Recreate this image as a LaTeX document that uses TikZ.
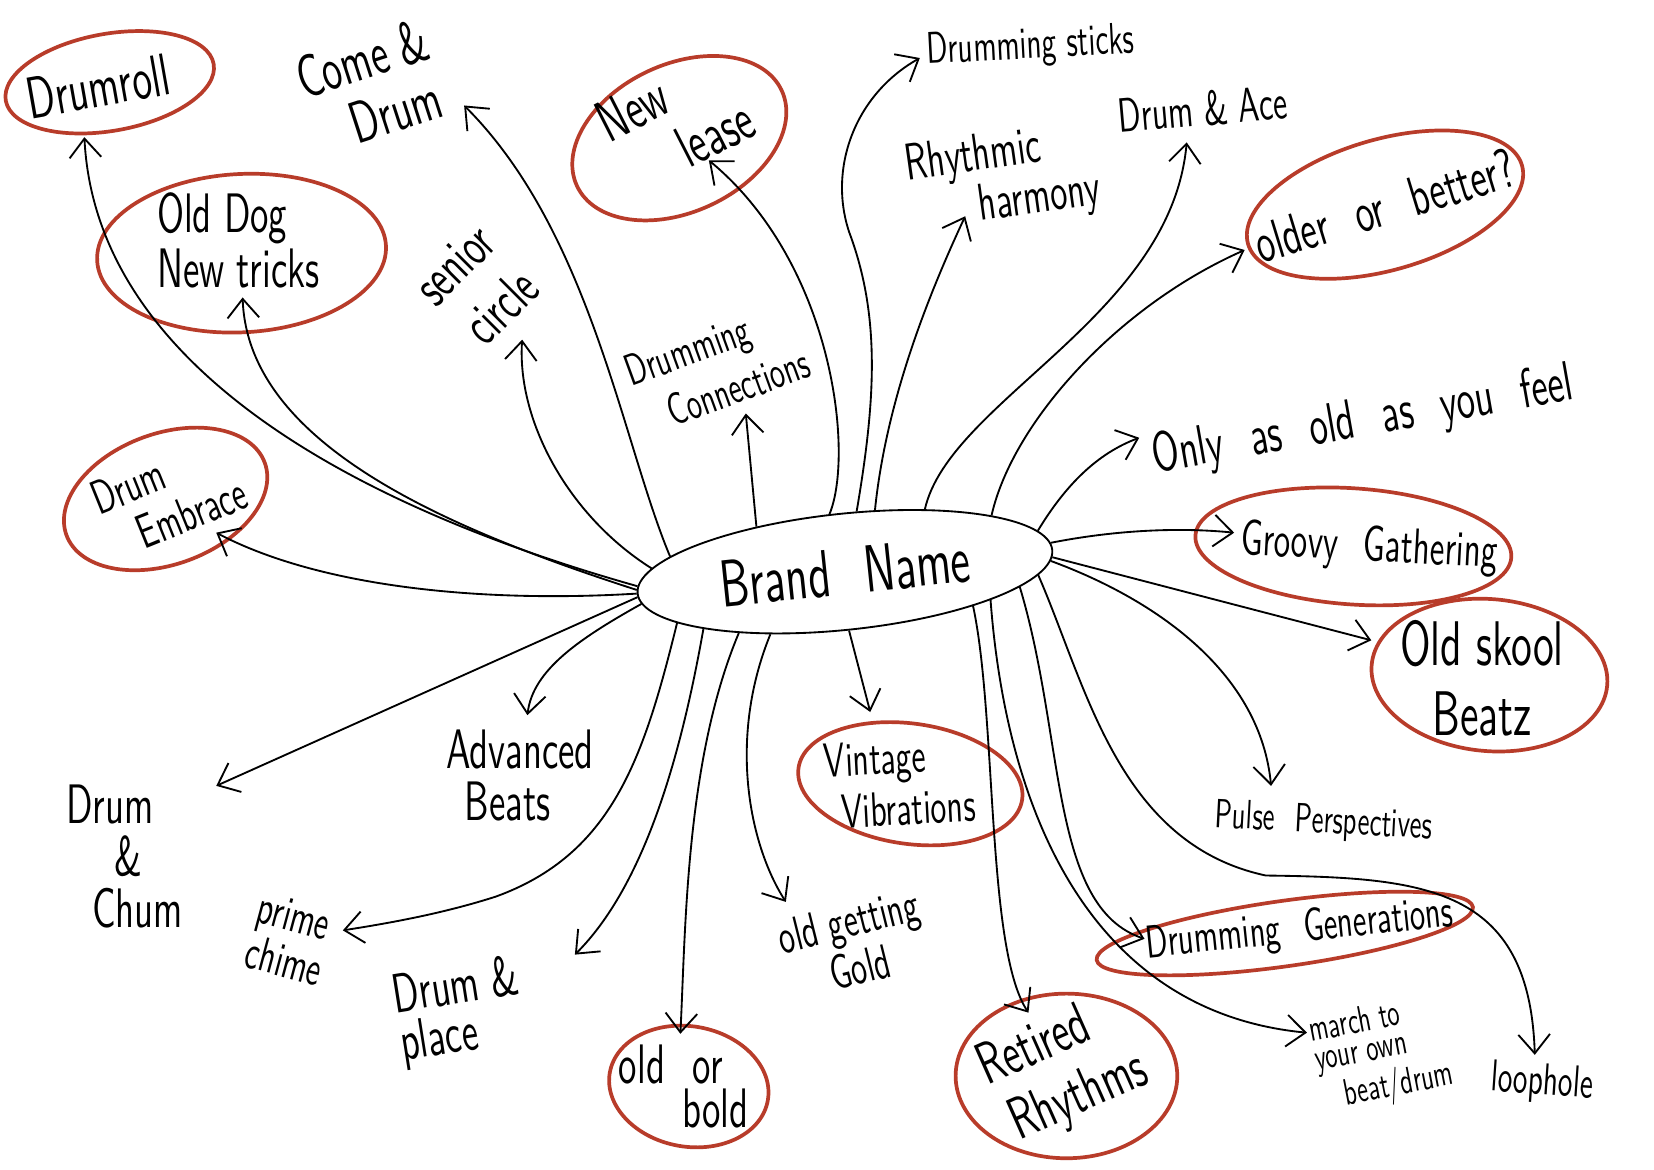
\documentclass[tikz,border=0pt]{standalone}
\usepackage{fontspec}
\setmainfont{lmsans10-regular.otf}[FakeStretch=0.66]
\usetikzlibrary{shapes.geometric,arrows.meta}
\definecolor{ringred}{RGB}{184,60,42}

\begin{document}
\begin{tikzpicture}[x=0.01cm, y=-0.01cm,
	word/.style 2 args={font=\fontsize{#1}{#2}\selectfont, align=left, inner sep=1pt},
	ring/.style 2 args={ellipse, draw=ringred, line width=1pt, inner sep=0pt, minimum width=#1, minimum height=#2},
	spoke/.style={line width=0.5pt, -{Straight Barb[length=1.8mm, width=3mm]}}]
	\fill[white] (0,0) rectangle (1568,1109);
	\useasboundingbox (0,0) rectangle (1568,1109);

	% hub
	\node[ellipse, draw, line width=0.5pt, minimum width=3.95cm, minimum height=1.1cm, rotate=6,
		font=\fontsize{18}{18}\selectfont] (brand) at (801,542) {Brand\enspace Name\hspace{10pt}};

	% red rings
	\node[ring={2cm}{0.92cm}, rotate=10] (drumroll-ring) at (104,78) {};
	\node[ring={2.74cm}{1.5cm}, rotate=3] (olddog-ring) at (229,240) {};
	\node[ring={2.14cm}{1.4cm}, rotate=25] (newlease-ring) at (644,131) {};
	\node[ring={2.7cm}{1.24cm}, rotate=16] (older-ring) at (1313,194) {};
	\node[ring={2cm}{1.24cm}, rotate=20] (embrace-ring) at (157,473) {};
	\node[ring={3cm}{1.1cm}, rotate=-4] (groovy-ring) at (1283,518) {};
	\node[ring={2.24cm}{1.44cm}, rotate=-5] (skool-ring) at (1412,640) {};
	\node[ring={2.14cm}{1.14cm}, rotate=-8] (vintage-ring) at (863,743) {};
	\node[ring={3.6cm}{0.62cm}, rotate=8] (generations-ring) at (1218,885) {};
	\node[ring={1.52cm}{1.14cm}, rotate=-10] (oldbold-ring) at (653,1030) {};
	\node[ring={2.1cm}{1.56cm}] (retired-ring) at (1011,1020) {};

	% labels
	\node[word={16}{16}, rotate=10] (drumroll) at (93,82) {Drumroll};
	\node[word={15}{15}] (olddog) at (226,228) {Old Dog\\New tricks};
	\node[word={16}{16}, rotate=27] (newlease) at (640,114) {New\\\hspace{16pt}lease};
	\node[word={15}{15}, rotate=17] (older) at (1313,195) {older\enspace or\enspace better?};
	\node[word={13}{13}, rotate=22] (embrace) at (160,470) {Drum\\\hspace{8pt}Embrace};
	\node[word={13.5}{14}, rotate=-3] (groovy) at (1298,520) {Groovy\enspace Gathering};
	\node[word={17}{19}, align=center] (skool) at (1405,643) {Old skool\\Beatz};
	\node[word={13}{14}, rotate=3] (vintage) at (853,742) {Vintage\\\hspace{4pt}Vibrations};
	\node[word={12.5}{13}, rotate=6] (generations) at (1232,882) {Drumming\enspace Generations};
	\node[word={15}{12}] (oldbold) at (648,1030) {old\enspace or\\\hspace{17pt}bold};
	\node[word={16}{17}, rotate=24] (retired) at (1008,1015) {Retired\\\hspace{2pt}Rhythms};
	\node[word={16}{16}, rotate=18] (comedrum) at (352,82) {Come \&\\\hspace{10pt}Drum};
	\node[word={15}{17}, rotate=45] (senior) at (452,272) {senior\\\hspace{2pt}circle};
	\node[word={12}{14}, rotate=20] (connections) at (680,348) {Drumming\\\hspace{7pt}Connections};
	\node[word={12}{12}, rotate=3] (sticks) at (977,45) {Drumming sticks};
	\node[word={14}{12}, rotate=8] (rhythmic) at (951,170) {Rhythmic\\\hspace{18pt}harmony};
	\node[word={13}{13}, rotate=5] (ace) at (1140,103) {Drum \& Ace};
	\node[word={15}{15}, rotate=10] (onlyold) at (1292,400) {Only\enspace as\enspace old\enspace as\enspace you\enspace feel};
	\node[word={11}{11}, rotate=-3] (pulse) at (1255,780) {Pulse\enspace Perspectives};
	\node[word={10}{8}, rotate=11] (march) at (1310,1000) {march to\\your own\\\hspace{6pt}beat/drum};
	\node[word={12}{12}, rotate=-4] (loophole) at (1462,1027) {loophole};
	\node[word={15}{14}] (chum) at (118,812) {Drum\\\hspace{13pt}\&\\\hspace{7pt}Chum};
	\node[word={13}{11}, rotate=-15] (prime) at (275,890) {prime\\chime};
	\node[word={15}{13}, rotate=9] (place) at (436,960) {Drum \&\\place};
	\node[word={15}{14}] (advanced) at (493,735) {Advanced\\\hspace{5pt}Beats};
	\node[word={13}{13}, rotate=14] (gold) at (810,895) {old getting\\\hspace{11pt}Gold};

	% arrow tips
	\coordinate (drumroll-in) at (80,130);
	\coordinate (olddog-in) at (230,282);
	\coordinate (embrace-in) at (205,505);
	\coordinate (chum-in) at (205,745);
	\coordinate (advanced-in) at (500,678);
	\coordinate (comedrum-in) at (440,100);
	\coordinate (senior-in) at (495,322);
	\coordinate (connections-in) at (707,392);
	\coordinate (newlease-in) at (672,152);
	\coordinate (sticks-in) at (872,55);
	\coordinate (rhythmic-in) at (915,205);
	\coordinate (ace-in) at (1125,135);
	\coordinate (older-in) at (1180,237);
	\coordinate (onlyold-in) at (1080,415);
	\coordinate (groovy-in) at (1170,505);
	\coordinate (skool-in) at (1300,607);
	\coordinate (pulse-in) at (1205,745);
	\coordinate (loophole-in) at (1455,1000);
	\coordinate (generations-in) at (1085,890);
	\coordinate (march-in) at (1239,979);
	\coordinate (retired-in) at (975,960);
	\coordinate (vintage-in) at (825,675);
	\coordinate (gold-in) at (745,855);
	\coordinate (oldbold-in) at (645,980);
	\coordinate (place-in) at (545,905);
	\coordinate (prime-in) at (325,882);

	% spokes, left side
	\draw[spoke] (brand.178) .. controls (300,470) and (90,330) .. (drumroll-in);
	\draw[spoke] (brand.179) .. controls (420,500) and (235,420) .. (olddog-in);
	\draw[spoke] (brand.180) .. controls (450,572) and (300,555) .. (embrace-in);
	\draw[spoke] (brand.181) -- (chum-in);
	\draw[spoke] (brand.183) .. controls (550,605) and (505,635) .. (advanced-in);
	\draw[spoke] (brand.169) .. controls (590,420) and (560,220) .. (comedrum-in);
	\draw[spoke] (brand.173) .. controls (540,490) and (490,400) .. (senior-in);
	% spokes, top
	\draw[spoke] (brand.147) -- (connections-in);
	\draw[spoke] (brand.99) .. controls (810,430) and (790,250) .. (newlease-in);
	\draw[spoke] (brand.73) .. controls (830,380) and (835,300) .. (805,220)
		.. controls (785,160) and (810,90) .. (sticks-in);
	\draw[spoke] (brand.58) .. controls (840,380) and (880,280) .. (rhythmic-in);
	\draw[spoke] (brand.32) .. controls (900,380) and (1110,300) .. (ace-in);
	\draw[spoke] (brand.15) .. controls (960,400) and (1060,290) .. (older-in);
	% spokes, right side
	\draw[spoke] (brand.6) .. controls (1010,460) and (1040,430) .. (onlyold-in);
	\draw[spoke] (brand.2) .. controls (1060,502) and (1120,500) .. (groovy-in);
	\draw[spoke] (brand.-2) -- (skool-in);
	\draw[spoke] (brand.-3) .. controls (1100,570) and (1195,640) .. (pulse-in);
	\draw[spoke] (brand.-7.5) .. controls (1030,650) and (1060,800) .. (1200,830)
		.. controls (1350,832) and (1450,840) .. (loophole-in);
	\draw[spoke] (brand.-11) .. controls (1010,700) and (995,860) .. (generations-in);
	\draw[spoke] (brand.-17) .. controls (955,780) and (1040,960) .. (march-in);
	\draw[spoke] (brand.-21.5) .. controls (945,680) and (935,900) .. (retired-in);
	% spokes, bottom
	\draw[spoke] (brand.268) -- (vintage-in);
	\draw[spoke] (brand.214) .. controls (690,700) and (710,800) .. (gold-in);
	\draw[spoke] (brand.204) .. controls (650,720) and (650,880) .. (oldbold-in);
	\draw[spoke] (brand.196) .. controls (645,720) and (610,840) .. (place-in);
	\draw[spoke] (brand.191.5) .. controls (610,720) and (580,810) .. (470,850)
		.. controls (420,866) and (370,875) .. (prime-in);
\end{tikzpicture}
\end{document}
